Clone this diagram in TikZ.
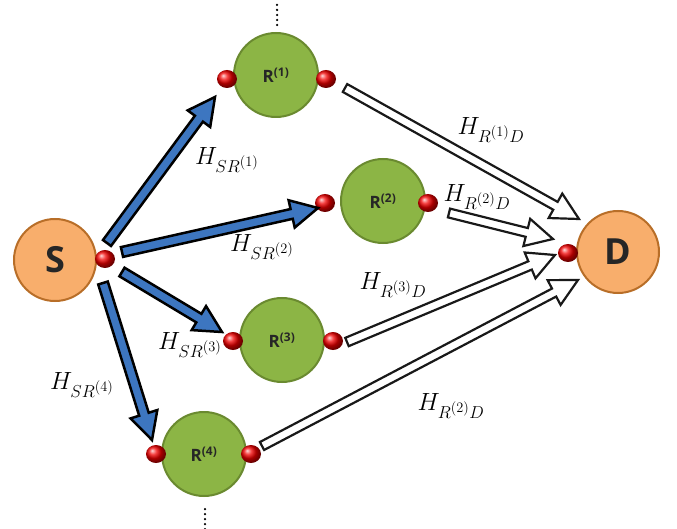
\documentclass[tikz,border=0pt]{standalone}
\usepackage{fontspec}
\setsansfont{Open Sans}
\DeclareMathSizes{24}{24}{18}{15}
\usetikzlibrary{calc,shapes.geometric}
\definecolor{orfill}{HTML}{F8AE6C}
\definecolor{ordraw}{HTML}{B86E28}
\definecolor{grfill}{HTML}{8CB545}
\definecolor{grdraw}{HTML}{6A8A30}
\definecolor{blu}{HTML}{3D76C0}
\definecolor{txt}{HTML}{262626}
\newcommand\blkarrow[6]{% start, tip, style, shaft half-width, head half-width, head length
  \coordinate (tmpc) at ($(#2)!#6!(#1)$);
  \draw[#3] ($(#1)!#4!90:(#2)$) -- ($(tmpc)!#4!90:(#2)$) -- ($(tmpc)!#5!90:(#2)$) -- (#2)
    -- ($(tmpc)!#5!-90:(#2)$) -- ($(tmpc)!#4!-90:(#2)$) -- ($(#1)!#4!-90:(#2)$) -- cycle;
}
\tikzset{
  big/.style={circle, draw=ordraw, line width=2pt, fill=orfill, minimum size=82pt, inner sep=0pt,
    font=\fontsize{36}{36}\sffamily\bfseries, text=txt},
  relay/.style={circle, draw=grdraw, line width=2pt, fill=grfill, minimum size=84pt, inner sep=0pt,
    font=\fontsize{17}{17}\sffamily\bfseries, text=txt},
  reddot/.style={ellipse, minimum width=20pt, minimum height=18pt, inner sep=0pt, ball color=red!95!black},
  lab/.style={font=\fontsize{24}{26}\selectfont},
  blk/.style={draw=black, line width=2.5pt, fill=blu, line join=miter},
  wht/.style={draw=black!90, line width=2.2pt, fill=white, line join=miter},
  vdots/.style={line width=2.5pt, dash pattern=on 0pt off 5pt, line cap=round}
}
\begin{document}
\begin{tikzpicture}[x=1pt,y=-1pt]
\useasboundingbox (0,0) rectangle (677,529);
% main nodes
\node[big] (S) at (55,260) {S};
\node[big] (D) at (618,252) {D};
\node[relay] (R1) at (276,75) {R\textsuperscript{(1)}};
\node[relay] (R2) at (383,201) {R\textsuperscript{(2)}};
\node[relay] (R3) at (282,340) {R\textsuperscript{(3)}};
\node[relay] (R4) at (204,454) {R\textsuperscript{(4)}};
% antenna dots
\node[reddot] (Sd) at (105,259) {};
\node[reddot] (Dd) at (568,253) {};
\node[reddot] (R1l) at (227,79) {};
\node[reddot] (R1r) at (326,79) {};
\node[reddot] (R2l) at (325,203) {};
\node[reddot] (R2r) at (428,203) {};
\node[reddot] (R3l) at (233,341) {};
\node[reddot] (R3r) at (333,341) {};
\node[reddot] (R4l) at (156,454) {};
\node[reddot] (R4r) at (251,454) {};
% dotted continuation
\coordinate (t1) at (277,5); \coordinate (t2) at (277,25);
\coordinate (u1) at (205,509); \coordinate (u2) at (205,529);
\draw[vdots] (t1) -- (t2);
\draw[vdots] (u1) -- (u2);
% blue arrows S -> R
\coordinate (b1s) at (107,243); \coordinate (b1e) at (215,97);
\coordinate (b2s) at (122,252); \coordinate (b2e) at (318,208);
\coordinate (b3s) at (122,272); \coordinate (b3e) at (222,332);
\coordinate (b4s) at (103,283); \coordinate (b4e) at (152,440);
\blkarrow{b1s}{b1e}{blk}{5pt}{14pt}{27pt}
\blkarrow{b2s}{b2e}{blk}{5pt}{14pt}{27pt}
\blkarrow{b3s}{b3e}{blk}{5pt}{14pt}{27pt}
\blkarrow{b4s}{b4e}{blk}{5pt}{14pt}{27pt}
% white arrows R -> D
\coordinate (w1s) at (345,88); \coordinate (w1e) at (579,219);
\coordinate (w2s) at (449,213); \coordinate (w2e) at (553,239);
\coordinate (w3s) at (347,342); \coordinate (w3e) at (555,255);
\coordinate (w4s) at (262,446); \coordinate (w4e) at (578,280);
\blkarrow{w1s}{w1e}{wht}{4.5pt}{14pt}{27pt}
\blkarrow{w2s}{w2e}{wht}{4.5pt}{14pt}{27pt}
\blkarrow{w3s}{w3e}{wht}{4.5pt}{14pt}{27pt}
\blkarrow{w4s}{w4e}{wht}{4.5pt}{14pt}{27pt}
% labels
\node[lab] (l1) at (227,160) {$H_{SR^{(1)}}$};
\node[lab] (l2) at (262,247) {$H_{SR^{(2)}}$};
\node[lab] (l3) at (190,345) {$H_{SR^{(3)}}$};
\node[lab] (l4) at (82,385) {$H_{SR^{(4)}}$};
\node[lab] (m1) at (491,130) {$H_{R^{(1)}D}$};
\node[lab] (m2) at (477,197) {$H_{R^{(2)}D}$};
\node[lab] (m3) at (393,285) {$H_{R^{(3)}D}$};
\node[lab] (m4) at (451,406) {$H_{R^{(2)}D}$};
\end{tikzpicture}
\end{document}
